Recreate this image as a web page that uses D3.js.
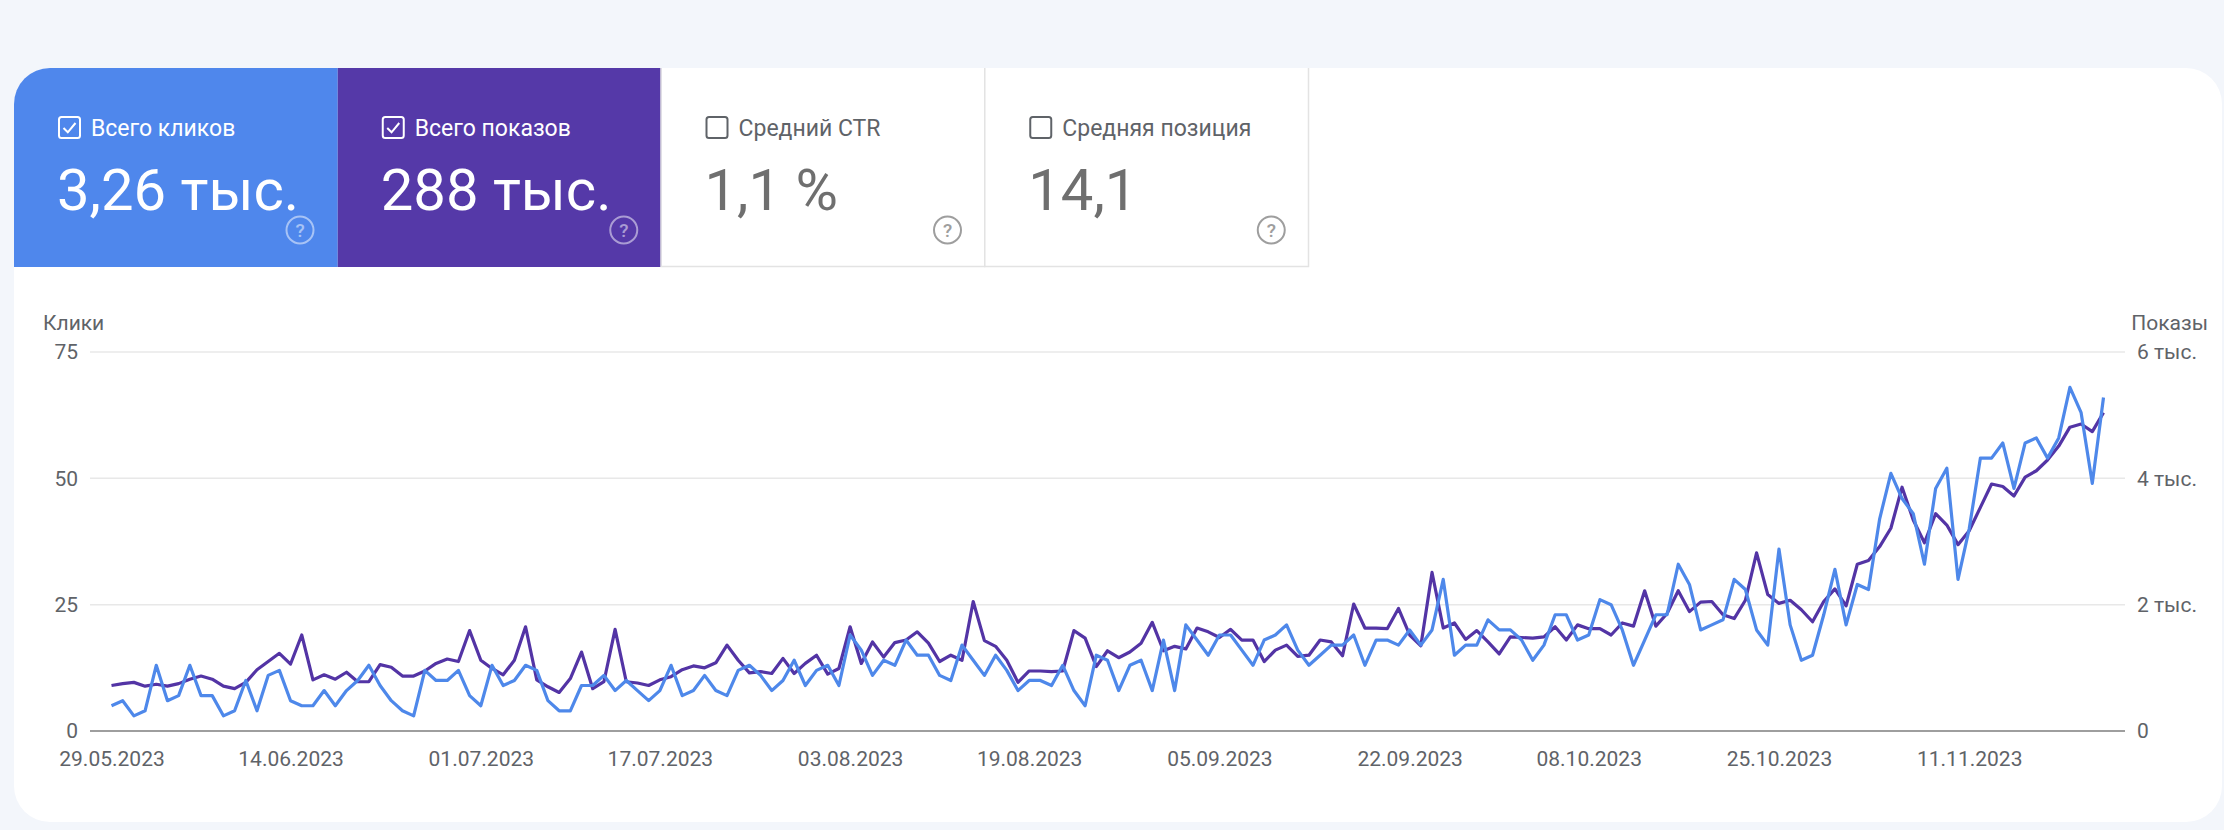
<!DOCTYPE html>
<html lang="ru">
<head>
<meta charset="utf-8">
<title>Эффективность в поиске</title>
<script src="https://cdn.jsdelivr.net/npm/d3@7"></script>
<style>
  html, body { margin: 0; padding: 0; background: #f3f6fb; }
  svg { display: block; font-family: Roboto, 'Noto Sans', sans-serif; }
</style>
</head>
<body>
<div id="chart"></div>
<script>
// ---- data ----
const startDate = '29.05.2023';
const endDate = '23.11.2023';

// daily clicks (left axis)
const clicks = [
  5, 6, 3, 4, 13, 6, 7, 13, 7, 7, 3, 4, 10, 4, 11, 12, 6, 5, 5, 8,
  5, 8, 10, 13, 9, 6, 4, 3, 12, 10, 10, 12, 7, 5, 13, 9, 10, 13, 12, 6,
  4, 4, 9, 9, 11, 8,
  10, 8, 6, 8, 13, 7, 8, 11, 8, 7, 12, 13, 11, 8, 10, 14, 9, 12, 13, 9,
  19, 16, 11, 14, 13, 18, 15, 15, 11, 10, 17, 14, 11, 15, 12, 8, 10, 10, 9, 13,
  8, 5, 15, 14, 8, 13,
  14, 8, 18, 8, 21, 18, 15, 19, 19, 16, 13, 18, 19, 21, 16, 13, 15, 17, 17, 19,
  13, 18, 18, 17, 20, 17, 20, 30, 15, 17, 17, 22, 20, 20, 18, 14, 17, 23, 23, 18,
  19, 26, 25, 20, 13,
  18, 23, 23, 33, 29, 20, 21, 22, 30, 28, 20, 17, 36, 21, 14, 15, 23, 32, 21, 29,
  28, 42, 51, 46, 43, 33, 48, 52, 30, 40, 54, 54, 57, 48, 57, 58, 54, 58, 68, 63,
  49, 66
];

// daily impressions (right axis)
const impressions = [
  720, 750, 770, 710, 740, 710, 750, 820, 870, 820, 710, 670, 770, 970, 1100, 1230, 1060, 1520, 810, 890,
  820, 930, 780, 780, 1050, 1010, 870, 870, 950, 1070, 1140, 1100, 1590, 1120, 990, 890, 1120, 1650, 810, 700,
  610, 830, 1250, 670, 780, 1610,
  780, 760, 720, 810, 860, 970, 1030, 1000, 1080, 1360, 1120, 920, 940, 910, 1150, 910, 1070, 1200, 900, 990,
  1650, 1070, 1410, 1170, 1400, 1440, 1570, 1390, 1100, 1200, 1120, 2050, 1430, 1340, 1120, 770, 950, 950, 940, 950,
  1590, 1470, 1020, 1270, 1160, 1250,
  1390, 1720, 1270, 1340, 1300, 1630, 1570, 1480, 1610, 1440, 1440, 1100, 1280, 1360, 1180, 1200, 1440, 1410, 1190, 2010,
  1630, 1630, 1620, 1940, 1520, 1350, 2510, 1630, 1710, 1450, 1590, 1410, 1220, 1490, 1480, 1470, 1490, 1650, 1440, 1680,
  1620, 1620, 1520, 1710, 1660,
  2220, 1660, 1860, 2220, 1890, 2040, 2050, 1840, 1780, 2070, 2820, 2160, 2020, 2070, 1920, 1730, 2050, 2250, 1980, 2640,
  2700, 2920, 3210, 3860, 3340, 2980, 3440, 3260, 2950, 3170, 3540, 3910, 3870, 3720, 4020, 4120, 4290, 4510, 4810, 4860,
  4740, 5040
];

const xTickLabels = [
  '29.05.2023', '14.06.2023', '01.07.2023', '17.07.2023', '03.08.2023', '19.08.2023',
  '05.09.2023', '22.09.2023', '08.10.2023', '25.10.2023', '11.11.2023'
];
const clickTicks = [0, 25, 50, 75];
const impressionTicks = [0, 2000, 4000, 6000];
const impressionTickLabels = ['0', '2 тыс.', '4 тыс.', '6 тыс.'];

// summary tiles on top of the card
const tileLabels = ['Всего кликов', 'Всего показов', 'Средний CTR', 'Средняя позиция'];
const tileValues = ['3,26 тыс.', '288 тыс.', '1,1 %', '14,1'];
const tileChecked = [true, true, false, false];

// ---- styling ----
const W = 2224;
const H = 830;
const BLUE = '#4f87ec';
const PURPLE = '#5539a8';
const GREY_TEXT = '#5f6368';
const tileFills = [BLUE, PURPLE, '#ffffff', '#ffffff'];

const parseDate = d3.utcParse('%d.%m.%Y');
const formatDate = d3.utcFormat('%d.%m.%Y');

const svg = d3.select('#chart').append('svg').attr('width', W).attr('height', H);

// white card with rounded corners, tiles get clipped by it
const card = { x: 14, y: 68, w: 2208, h: 754, r: 36 };
svg.append('defs').append('clipPath').attr('id', 'card-clip')
  .append('rect')
  .attr('x', card.x).attr('y', card.y)
  .attr('width', card.w).attr('height', card.h)
  .attr('rx', card.r);

svg.append('rect')
  .attr('x', card.x).attr('y', card.y)
  .attr('width', card.w).attr('height', card.h)
  .attr('rx', card.r)
  .attr('fill', '#ffffff');

const cardG = svg.append('g').attr('clip-path', 'url(#card-clip)');

// ---- tiles ----
const tileW = 323.75;
const tileH = 199;
const tiles = cardG.selectAll('g.tile')
  .data(tileLabels.map((label, i) => ({ label, value: tileValues[i], checked: tileChecked[i], fill: tileFills[i] })))
  .enter()
  .append('g')
  .attr('class', 'tile')
  .attr('transform', (d, i) => `translate(${card.x + i * tileW},${card.y})`);

tiles.append('rect')
  .attr('width', tileW).attr('height', tileH)
  .attr('fill', (d) => d.fill);

// thin border only around the unselected (white) tiles
tiles.filter((d) => !d.checked)
  .append('rect')
  .attr('x', -0.5).attr('y', -2)
  .attr('width', tileW).attr('height', tileH + 1.5)
  .attr('fill', 'none')
  .attr('stroke', '#e3e3e3')
  .attr('stroke-width', 1.5);

const fg = (d) => (d.checked ? '#ffffff' : GREY_TEXT);

// checkbox
tiles.append('rect')
  .attr('x', 45).attr('y', 49)
  .attr('width', 21).attr('height', 21)
  .attr('rx', 2.5)
  .attr('fill', 'none')
  .attr('stroke', fg)
  .attr('stroke-width', 2);

tiles.filter((d) => d.checked)
  .append('path')
  .attr('d', 'M49.5,60 L53.8,64.3 L61.5,55')
  .attr('fill', 'none')
  .attr('stroke', '#ffffff')
  .attr('stroke-width', 2);

tiles.append('text')
  .attr('x', 77).attr('y', 67.5)
  .attr('font-size', 23)
  .attr('fill', fg)
  .text((d) => d.label);

tiles.append('text')
  .attr('x', 43).attr('y', 142)
  .attr('font-size', 58)
  .attr('fill', (d) => (d.checked ? '#ffffff' : '#6f6f6f'))
  .text((d) => d.value);

// help icon
const help = tiles.append('g').attr('transform', 'translate(286,162)');
help.append('circle')
  .attr('r', 13.5)
  .attr('fill', 'none')
  .attr('stroke', (d) => (d.checked ? 'rgba(255,255,255,0.5)' : '#9e9e9e'))
  .attr('stroke-width', 2);
help.append('text')
  .attr('text-anchor', 'middle')
  .attr('dy', '0.36em')
  .attr('font-size', 19)
  .attr('font-weight', 500)
  .attr('fill', (d) => (d.checked ? 'rgba(255,255,255,0.5)' : '#9e9e9e'))
  .text('?');

// ---- chart ----
const plot = { left: 90, right: 2125, top: 352, bottom: 731 };
const dates = d3.utcDay.range(parseDate(startDate), d3.utcDay.offset(parseDate(endDate), 1));

const x = d3.scaleUtc()
  .domain([dates[0], dates[dates.length - 1]])
  .range([111.5, 2103.5]);
const yClicks = d3.scaleLinear().domain([0, 75]).range([plot.bottom, plot.top]);
const yImpr = d3.scaleLinear().domain([0, 6000]).range([plot.bottom, plot.top]);

// gridlines, zero line darker
svg.append('g')
  .selectAll('line')
  .data(clickTicks)
  .enter()
  .append('line')
  .attr('x1', plot.left).attr('x2', plot.right)
  .attr('y1', (d) => yClicks(d)).attr('y2', (d) => yClicks(d))
  .attr('stroke', (d) => (d === 0 ? '#9e9e9e' : '#e8e8e8'))
  .attr('stroke-width', (d) => (d === 0 ? 2 : 1.5));

function styleAxis(g) {
  g.select('.domain').remove();
  g.selectAll('text')
    .attr('font-size', 21)
    .attr('fill', GREY_TEXT)
    .attr('font-family', 'Roboto, sans-serif');
}

svg.append('g')
  .attr('transform', `translate(0,${plot.bottom})`)
  .call(d3.axisBottom(x).tickValues(xTickLabels.map(parseDate)).tickFormat(formatDate).tickSize(0).tickPadding(20))
  .call(styleAxis);

svg.append('g')
  .attr('transform', `translate(${plot.left},0)`)
  .call(d3.axisLeft(yClicks).tickValues(clickTicks).tickSize(0).tickPadding(12))
  .call(styleAxis);

svg.append('g')
  .attr('transform', `translate(${plot.right},0)`)
  .call(d3.axisRight(yImpr).tickValues(impressionTicks).tickFormat((d, i) => impressionTickLabels[i]).tickSize(0).tickPadding(12))
  .call(styleAxis);

// axis titles
svg.append('text')
  .attr('x', 43).attr('y', 330)
  .attr('font-size', 21)
  .attr('fill', GREY_TEXT)
  .text('Клики');

svg.append('text')
  .attr('x', 2208).attr('y', 330)
  .attr('text-anchor', 'end')
  .attr('font-size', 21)
  .attr('fill', GREY_TEXT)
  .text('Показы');

// impressions first, clicks drawn on top
const imprLine = d3.line().x((d, i) => x(dates[i])).y((d) => yImpr(d));
const clickLine = d3.line().x((d, i) => x(dates[i])).y((d) => yClicks(d));

svg.append('path')
  .datum(impressions)
  .attr('d', imprLine)
  .attr('fill', 'none')
  .attr('stroke', '#5334a5')
  .attr('stroke-width', 3.2)
  .attr('stroke-linejoin', 'round');

svg.append('path')
  .datum(clicks)
  .attr('d', clickLine)
  .attr('fill', 'none')
  .attr('stroke', '#4e88ea')
  .attr('stroke-width', 3.2)
  .attr('stroke-linejoin', 'round');
</script>
</body>
</html>
